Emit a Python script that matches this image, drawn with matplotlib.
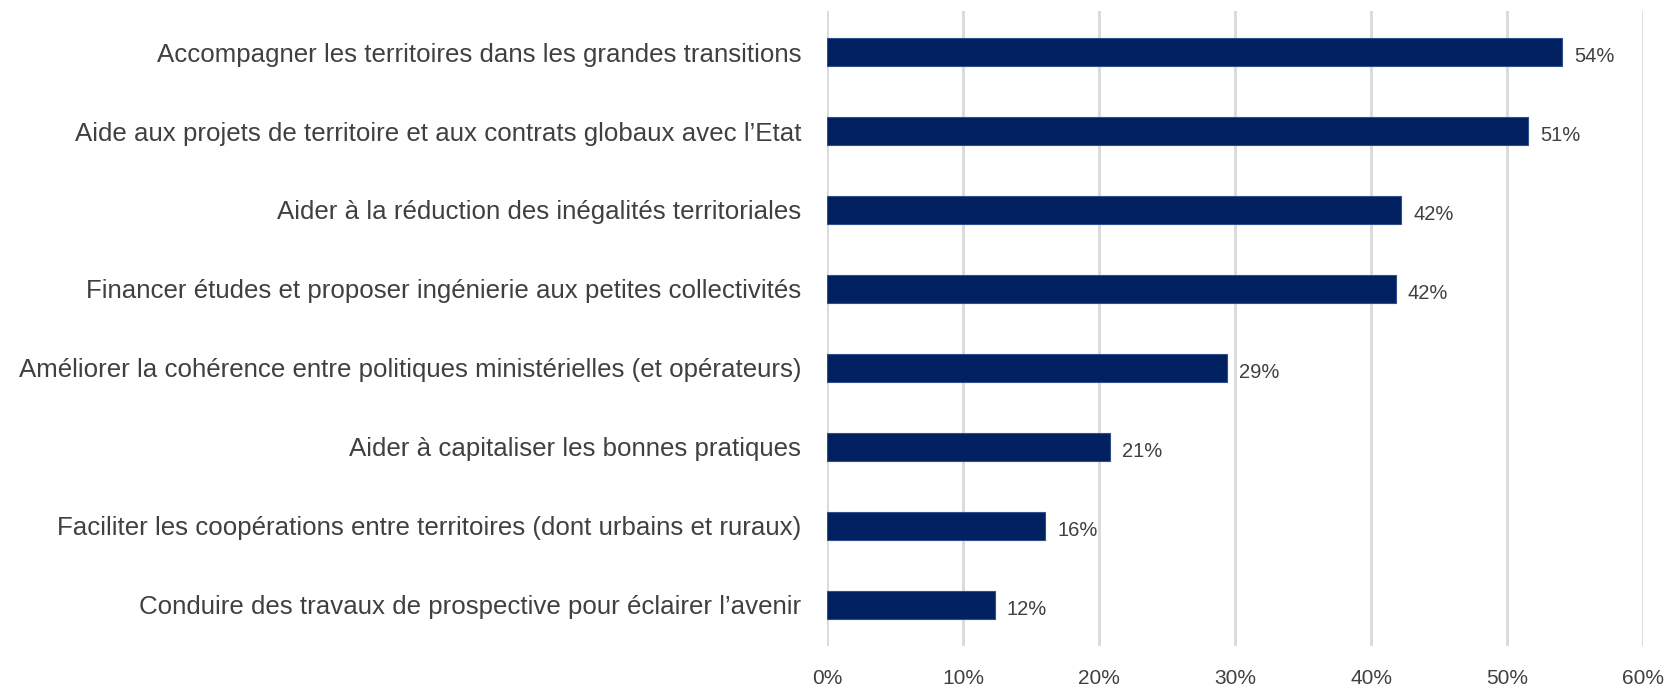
import matplotlib
matplotlib.use("Agg")
import matplotlib.pyplot as plt
from matplotlib.ticker import FuncFormatter

# categories, top to bottom
categories = [
    "Accompagner les territoires dans les grandes transitions",
    "Aide aux projets de territoire et aux contrats globaux avec l\u2019Etat",
    "Aider \u00e0 la r\u00e9duction des in\u00e9galit\u00e9s territoriales",
    "Financer \u00e9tudes et proposer ing\u00e9nierie aux petites collectivit\u00e9s",
    "Am\u00e9liorer la coh\u00e9rence entre politiques minist\u00e9rielles (et op\u00e9rateurs)",
    "Aider \u00e0 capitaliser les bonnes pratiques",
    "Faciliter les coop\u00e9rations entre territoires (dont urbains et ruraux)",
    "Conduire des travaux de prospective pour \u00e9clairer l\u2019avenir",
]
values = [54.0, 51.5, 42.2, 41.8, 29.4, 20.8, 16.0, 12.3]
labels = ["54%", "51%", "42%", "42%", "29%", "21%", "16%", "12%"]
xticks = [0, 10, 20, 30, 40, 50, 60]

plt.rcParams['font.family'] = ['Liberation Sans', 'DejaVu Sans']
text_col = "#404040"

fig = plt.figure(figsize=(16.75, 6.87), dpi=100)
ax = fig.add_axes([0.494, 0.060, 0.487, 0.924])

ypos = list(range(len(categories)))
ax.barh(ypos, values, height=0.36, color="#002060", edgecolor="#2f4f8f", linewidth=0.8, zorder=3)

for y, v, lab in zip(ypos, values, labels):
    ax.text(v + 0.9, y + 0.06, lab, va="center", ha="left", fontsize=14.5, color=text_col)

ax.set_xlim(0, 60)
ax.set_ylim(7.52, -0.52)
ax.set_xticks(xticks)
ax.xaxis.set_major_formatter(FuncFormatter(lambda x, p: f"{x:.0f}%"))
ax.set_yticks(ypos)
ax.set_yticklabels(categories, fontsize=18.6, color=text_col)
ax.tick_params(axis="x", labelsize=15, colors=text_col, length=0, pad=17)
ax.tick_params(axis="y", length=0, pad=19)
ax.grid(axis="x", color="#d9d9d9", linewidth=2, zorder=0)
for s in ax.spines.values():
    s.set_visible(False)

fig.savefig("out.png", dpi=100)
